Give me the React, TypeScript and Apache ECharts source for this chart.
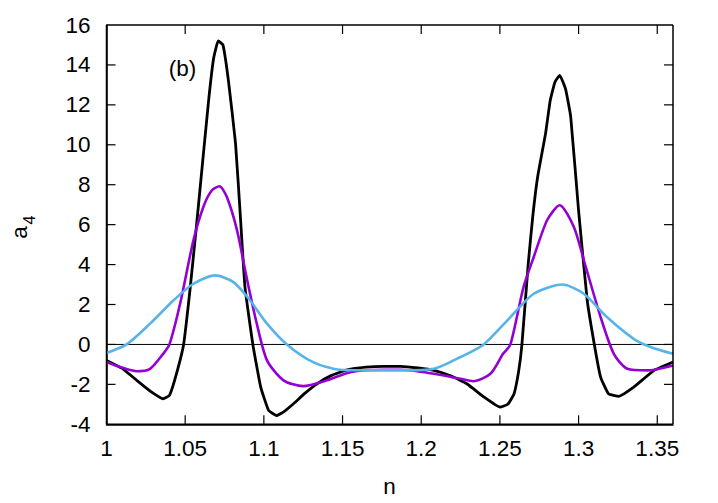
import React, { useEffect, useRef } from "react";
import * as echarts from "echarts";

const nBlack = [1.0, 1.01, 1.02, 1.028, 1.036, 1.04, 1.044, 1.049, 1.053, 1.057, 1.061, 1.065, 1.068, 1.071, 1.074, 1.0775, 1.082, 1.085, 1.088, 1.093, 1.098, 1.103, 1.108, 1.113, 1.119, 1.126, 1.134, 1.143, 1.153, 1.165, 1.176, 1.187, 1.198, 1.208, 1.219, 1.229, 1.24, 1.25, 1.255, 1.259, 1.262, 1.264, 1.268, 1.271, 1.274, 1.279, 1.282, 1.285, 1.288, 1.2917, 1.295, 1.3, 1.3055, 1.31, 1.314, 1.319, 1.3256, 1.335, 1.348, 1.36];
const aBlack = [-0.8, -1.2, -1.85, -2.35, -2.72, -2.55, -1.6, 0.0, 2.7, 5.8, 9.07, 12.3, 14.3, 15.2, 15.0, 13.2, 10.07, 6.5, 2.87, 0.0, -2.14, -3.3, -3.56, -3.35, -2.96, -2.45, -1.96, -1.55, -1.27, -1.14, -1.1, -1.1, -1.18, -1.3, -1.58, -1.97, -2.64, -3.14, -3.0, -2.47, -1.3, 0.0, 4.04, 6.5, 8.4, 10.56, 12.23, 13.15, 13.48, 12.8, 11.4, 6.7, 2.2, 0.0, -1.64, -2.47, -2.6, -2.14, -1.3, -0.88];

const nPurple = [1.0, 1.0086, 1.019, 1.0277, 1.036, 1.04, 1.0468, 1.0552, 1.0616, 1.067, 1.0718, 1.0765, 1.083, 1.089, 1.0955, 1.102, 1.1125, 1.125, 1.14, 1.155, 1.176, 1.187, 1.208, 1.225, 1.233, 1.244, 1.252, 1.2567, 1.265, 1.2715, 1.28, 1.288, 1.297, 1.304, 1.314, 1.3224, 1.331, 1.3436, 1.36];
const aPurple = [-0.88, -1.13, -1.34, -1.22, -0.47, 0.0, 2.05, 5.2, 6.9, 7.72, 7.92, 7.38, 5.7, 3.37, 1.04, -0.8, -1.8, -2.09, -1.8, -1.39, -1.27, -1.27, -1.47, -1.72, -1.84, -1.47, -0.47, 0.0, 2.87, 4.38, 6.22, 6.97, 5.88, 4.04, 1.37, -0.47, -1.22, -1.3, -1.05];

const nBlue = [1.0, 1.0128, 1.0277, 1.0425, 1.0552, 1.069, 1.0807, 1.0913, 1.102, 1.1146, 1.1316, 1.1485, 1.176, 1.187, 1.208, 1.225, 1.2397, 1.2567, 1.2715, 1.2896, 1.3033, 1.318, 1.335, 1.3457, 1.36];
const aBlue = [-0.43, 0.0, 1.04, 2.2, 3.04, 3.46, 3.12, 2.2, 1.04, 0.0, -0.9, -1.27, -1.3, -1.3, -1.22, -0.63, 0.0, 1.37, 2.54, 3.0, 2.54, 1.37, 0.28, -0.13, -0.47];

const nZero = [1.0, 1.36];
const aZero = [0, 0];

const xTicks = [1.05, 1.1, 1.15, 1.2, 1.25, 1.3, 1.35];
const yTicks = [-2, 0, 2, 4, 6, 8, 10, 12, 14];

const xMin = 1.0;
const xMax = 1.36;
const xStep = 0.05;
const yMin = -4;
const yMax = 16;
const yStep = 2;

const zip = (xs: number[], ys: number[]) => xs.map((x, i) => [x, ys[i]]);

const FONT = "Liberation Sans, Arial, Helvetica, sans-serif";
const TICK_LEN = 9;
const INK = "#000";

const seg = (x1: number, y1: number, x2: number, y2: number) => ({
  type: "line",
  shape: { x1, y1, x2, y2 },
  style: { stroke: INK, lineWidth: 1.2, fill: null },
});

export default function App() {
  const ref = useRef<HTMLDivElement>(null);
  useEffect(() => {
    document.body.style.margin = "0";
    if (!ref.current) return;
    const chart = echarts.init(ref.current, undefined, { renderer: "svg" });
    const xLabelFmt = (v: number) => (Math.abs(v - xMax) < 1e-9 ? "" : String(+v.toFixed(2)));
    chart.setOption({
      animation: false,
      grid: { left: 106.5, right: 45, top: 25, bottom: 78.7 },
      xAxis: {
        type: "value", min: xMin, max: xMax, interval: xStep, position: "bottom",
        axisLine: { show: true, onZero: false, lineStyle: { color: INK, width: 1.5 } },
        axisTick: { show: false },
        splitLine: { show: false },
        axisLabel: { margin: 13, fontSize: 22.5, color: "#000", fontFamily: FONT, formatter: xLabelFmt },
      },
      yAxis: {
        type: "value", min: yMin, max: yMax, interval: yStep, position: "left",
        axisLine: { show: true, onZero: false, lineStyle: { color: INK, width: 1.5 } },
        axisTick: { show: false },
        splitLine: { show: false },
        axisLabel: { margin: 16, fontSize: 22.5, color: "#000", fontFamily: FONT },
      },
      series: [
        {
          type: "line", data: zip(nZero, aZero), symbol: "none",
          lineStyle: { color: "#000", width: 1 },
        },
        {
          type: "line", data: zip(nBlack, aBlack), symbol: "none", smooth: 0.12,
          lineStyle: { color: "#000000", width: 2.8 },
        },
        {
          type: "line", data: zip(nPurple, aPurple), symbol: "none", smooth: 0.25,
          lineStyle: { color: "#9400D3", width: 2.6 },
        },
        {
          type: "line", data: zip(nBlue, aBlue), symbol: "none", smooth: 0.25,
          lineStyle: { color: "#56B4E9", width: 2.6 },
        },
        {
          // plot frame, placed through the axes' scales
          type: "custom", coordinateSystem: "cartesian2d", clip: false, silent: true, z: 5,
          data: [[xMin, yMin]],
          renderItem: (_p: any, api: any) => {
            const tl = api.coord([xMin, yMax]);
            const br = api.coord([xMax, yMin]);
            return {
              type: "group",
              children: [
                { type: "line", shape: { x1: tl[0], y1: tl[1], x2: br[0], y2: tl[1] }, style: { stroke: INK, lineWidth: 1.5 } },
                { type: "line", shape: { x1: br[0], y1: tl[1], x2: br[0], y2: br[1] }, style: { stroke: INK, lineWidth: 1.5 } },
                { type: "line", shape: { x1: tl[0], y1: br[1], x2: br[0], y2: br[1] }, style: { stroke: INK, lineWidth: 1.5 } },
                { type: "line", shape: { x1: tl[0], y1: tl[1], x2: tl[0], y2: br[1] }, style: { stroke: INK, lineWidth: 1.5 } },
              ],
            };
          },
        },
        {
          // inward ticks on bottom and top
          type: "custom", coordinateSystem: "cartesian2d", clip: false, silent: true, z: 5,
          data: xTicks.map((v) => [v, yMin]),
          renderItem: (_p: any, api: any) => {
            const x = api.coord([api.value(0), yMin])[0];
            const B = api.coord([xMin, yMin])[1];
            const T = api.coord([xMin, yMax])[1];
            return { type: "group", children: [seg(x, B, x, B - TICK_LEN), seg(x, T, x, T + TICK_LEN)] };
          },
        },
        {
          // inward ticks on left and right
          type: "custom", coordinateSystem: "cartesian2d", clip: false, silent: true, z: 5,
          data: yTicks.map((v) => [xMin, v]),
          renderItem: (_p: any, api: any) => {
            const y = api.coord([xMin, api.value(1)])[1];
            const L = api.coord([xMin, yMin])[0];
            const R = api.coord([xMax, yMin])[0];
            return { type: "group", children: [seg(L, y, L + TICK_LEN, y), seg(R, y, R - TICK_LEN, y)] };
          },
        },
      ],
      graphic: [
        {
          type: "text", x: 182.5, y: 68,
          style: { text: "(b)", fontSize: 22.5, fontFamily: FONT, fill: "#000", align: "center", verticalAlign: "middle" },
        },
        {
          type: "text", x: 389.5, y: 486.5,
          style: { text: "n", fontSize: 22.5, fontFamily: FONT, fill: "#000", align: "center", verticalAlign: "middle" },
        },
        {
          type: "text", x: 19.6, y: 232.5, rotation: Math.PI / 2,
          style: { text: "a", fontSize: 22.5, fontFamily: FONT, fill: "#000", align: "center", verticalAlign: "middle" },
        },
        {
          type: "text", x: 29.4, y: 220, rotation: Math.PI / 2,
          style: { text: "4", fontSize: 16, fontFamily: FONT, fill: "#000", align: "center", verticalAlign: "middle" },
        },
      ],
    });
    return () => chart.dispose();
  }, []);
  return <div ref={ref} style={{ width: 718, height: 503 }} />;
}
